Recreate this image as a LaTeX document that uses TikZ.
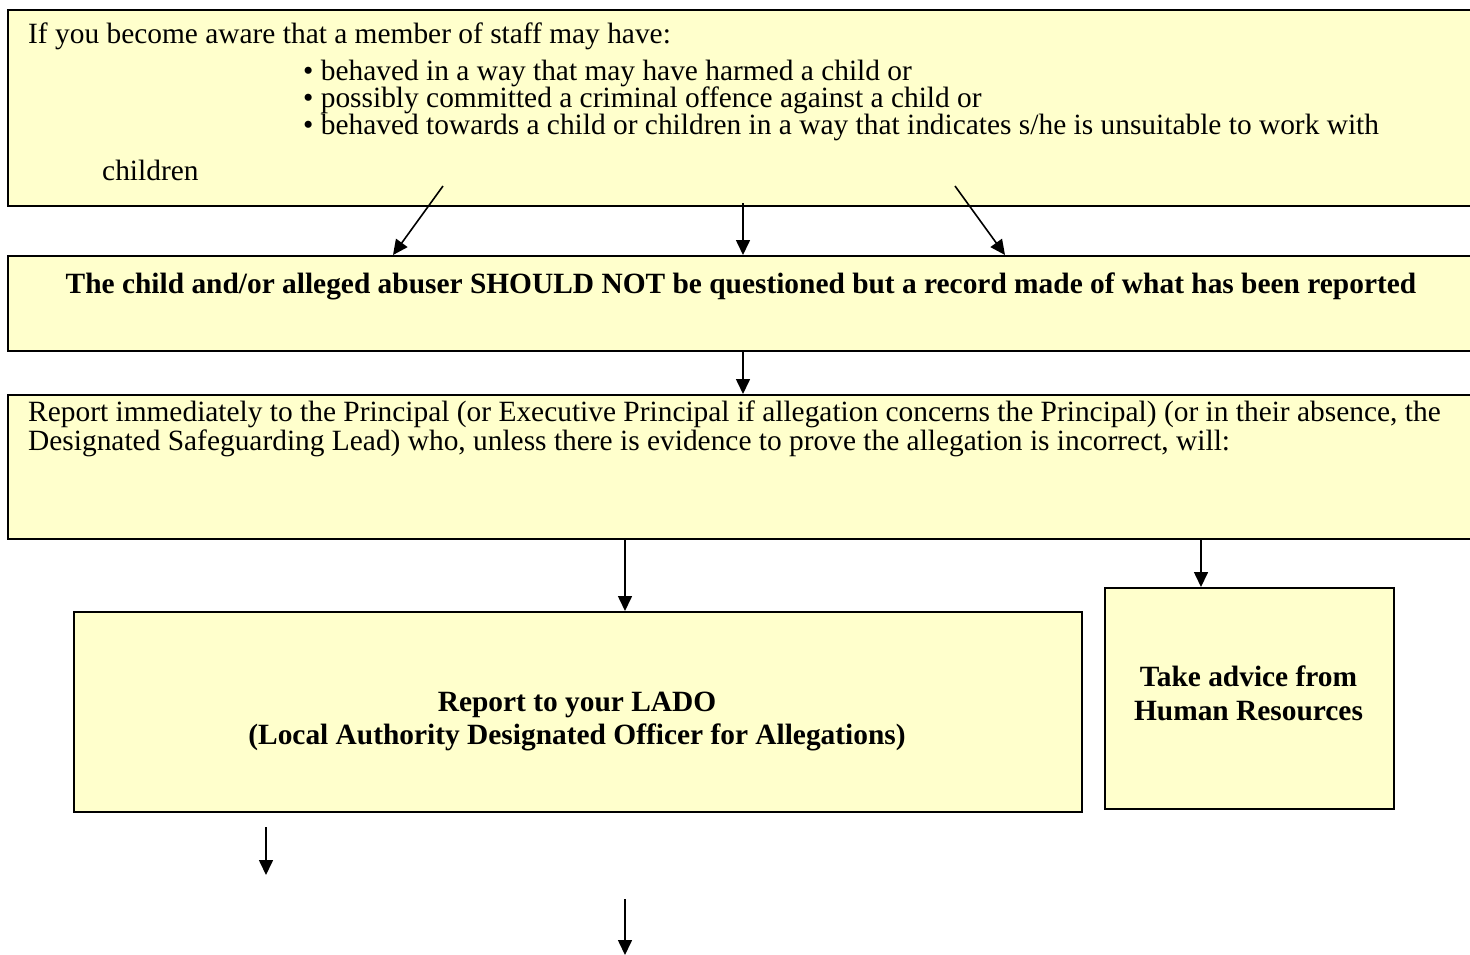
\documentclass[tikz,border=0pt]{standalone}
\usepackage{fontspec}
\setmainfont{Liberation Serif}
\usetikzlibrary{arrows.meta}
\definecolor{boxfill}{HTML}{FFFFCC}
\begin{document}
\begin{tikzpicture}[x=1pt,y=-1pt,
  boxnode/.style={draw=black, line width=2.2pt, fill=boxfill, inner sep=0pt, anchor=north west},
  txt/.style={inner sep=0pt, anchor=base west, font=\fontsize{29.4}{33}\selectfont},
  btxt/.style={inner sep=0pt, anchor=base, font=\fontsize{29.4}{33}\selectfont\bfseries},
  arr/.style={line width=1.6pt, -{Triangle[width=14pt,length=15pt]}}]
\useasboundingbox (0,0) rectangle (1470,954);
\clip (0,0) rectangle (1470,954);
% boxes
\node[boxnode, minimum width=1480pt, minimum height=196pt] (b1) at (7,9) {};
\node[boxnode, minimum width=1480pt, minimum height=95pt] (b2) at (7,255) {};
\node[boxnode, minimum width=1480pt, minimum height=144pt] (b3) at (7,394) {};
\node[boxnode, minimum width=1008pt, minimum height=200pt] (lado) at (73,611) {};
\node[boxnode, minimum width=289pt, minimum height=221pt] (hr) at (1104,587) {};
% texts
\node[txt] (t1) at (28,43) {If you become aware that a member of staff may have:};
\node[txt] (t2) at (303,80) {• behaved in a way that may have harmed a child or};
\node[txt] (t3) at (303,107) {• possibly committed a criminal offence against a child or};
\node[txt] (t4) at (303,134) {• behaved towards a child or children in a way that indicates s/he is unsuitable to work with};
\node[txt] (t5) at (102,180) {children};
\node[btxt] (t6) at (741,293) {The child and/or alleged abuser SHOULD NOT be questioned but a record made of what has been reported};
\node[txt] (t7) at (28,421) {Report immediately to the Principal (or Executive Principal if allegation concerns the Principal) (or in their absence, the};
\node[txt] (t8) at (28,450) {Designated Safeguarding Lead) who, unless there is evidence to prove the allegation is incorrect, will:};
\node[btxt] (t9) at (577,711) {Report to your LADO};
\node[btxt] (t10) at (577,744) {(Local Authority Designated Officer for Allegations)};
\node[btxt] (t11) at (1248.5,686) {Take advice from};
\node[btxt] (t12) at (1248.5,720) {Human Resources};
% arrow end points
\coordinate (a1s) at (443,186);
\coordinate (a1e) at (393,255);
\coordinate (a2s) at (743,203);
\coordinate (a3s) at (955,186);
\coordinate (a3e) at (1005,255);
\coordinate (a5x) at (625,0);
\coordinate (a6x) at (1201,0);
\coordinate (a7s) at (266,827);
\coordinate (a7e) at (266,875);
\coordinate (a8s) at (625,899);
\coordinate (a8e) at (625,955);
\draw[arr] (a1s) -- (a1e);
\draw[arr] (a2s) -- (a2s |- b2.north);
\draw[arr] (a3s) -- (a3e);
\draw[arr] (b2.south -| a2s) -- (b3.north -| a2s);
\draw[arr] (b3.south -| a5x) -- (lado.north -| a5x);
\draw[arr] (b3.south -| a6x) -- (hr.north -| a6x);
\draw[arr] (a7s) -- (a7e);
\draw[arr] (a8s) -- (a8e);
\end{tikzpicture}
\end{document}
